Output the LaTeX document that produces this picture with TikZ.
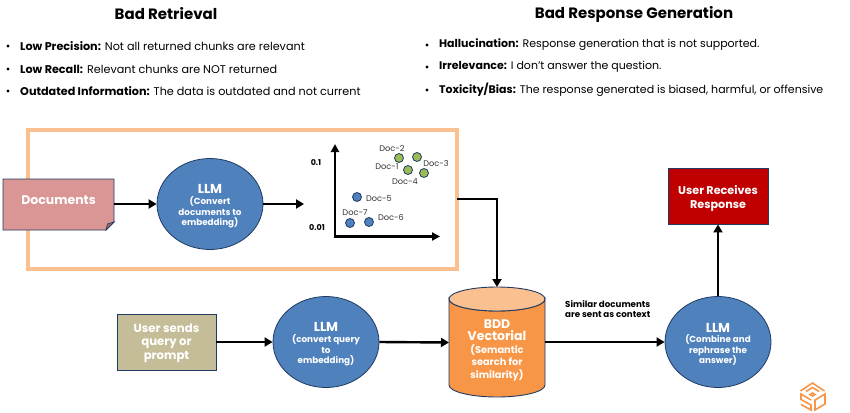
\documentclass[tikz,border=0pt]{standalone}
\usepackage{fontspec}
\setmainfont{Poppins}
\usetikzlibrary{arrows.meta,shapes.geometric}
\definecolor{edgeblue}{HTML}{1F3B63}
\definecolor{llmblue}{HTML}{4F81BD}
\definecolor{framepeach}{HTML}{FAC090}
\definecolor{docred}{HTML}{D99694}
\definecolor{dbor}{HTML}{F79646}
\definecolor{khaki}{HTML}{C4BD97}
\definecolor{dred}{HTML}{C00000}
\definecolor{dotgreen}{HTML}{9BBB59}
\tikzset{
  x=1pt,y=-1pt,
  llm/.style={ellipse,draw=edgeblue,line width=0.8pt,fill=llmblue,minimum width=106pt,minimum height=91pt,inner sep=0pt,text=white,align=center,font=\fontsize{8.8}{10.6}\selectfont\bfseries},
  boxw/.style={draw=edgeblue,line width=0.9pt,text=white,align=center,inner sep=0pt,font=\fontsize{10}{13.5}\selectfont\bfseries},
  flow/.style={draw=black,line width=2.4pt,-{Triangle[length=8pt,width=9pt]}},
  dotg/.style={circle,draw=edgeblue,line width=0.8pt,fill=dotgreen,minimum size=9pt,inner sep=0pt},
  dotb/.style={circle,draw=edgeblue,line width=0.8pt,fill=llmblue,minimum size=9pt,inner sep=0pt},
  doclab/.style={font=\fontsize{8.2}{9}\selectfont,text=black!80,inner sep=0pt},
  axlab/.style={font=\fontsize{8}{9}\selectfont\bfseries,inner sep=0pt},
  head/.style={font=\fontsize{15}{17}\selectfont\bfseries,inner sep=0pt},
  bul/.style={font=\fontsize{11.2}{13}\selectfont,anchor=west,inner sep=0pt},
  bur/.style={font=\fontsize{11}{13}\selectfont,anchor=west,inner sep=0pt},
}
\begin{document}
\begin{tikzpicture}
\useasboundingbox (0,0) rectangle (850,412);
\fill[white] (0,0) rectangle (850,412);
% headings and lists
\node[head] (h1) at (166,14) {Bad Retrieval};
\node[head] (h2) at (634,14) {Bad Response Generation};
\foreach \n/\yy/\t/\r in {a/46/Low Precision:/Not all returned chunks are relevant,b/69/Low Recall:/Relevant chunks are NOT returned,c/91/Outdated Information:/The data is outdated and not current}{
  \fill (8,\yy) circle (1.6);
  \node[bul] (l\n) at (20,\yy) {\textbf{\t} \r};
}
\foreach \n/\yy/\t/\r in {a/45/Hallucination:/Response generation that is not supported.,b/67/Irrelevance:/I don't answer the question.,c/90/Toxicity\slash Bias:/The response generated is biased\char44{} harmful\char44{} or offensive}{
  \fill (427,\yy) circle (1.6);
  \node[bur] (r\n) at (439,\yy) {\textbf{\t} \r};
}
% frame
\node[draw=framepeach,line width=4pt,minimum width=429pt,minimum height=139pt,inner sep=0pt] (frame) at (242.5,199.5) {};
% documents
\fill[docred,draw=edgeblue,line width=0.9pt] (3,179) -- (114,179) -- (114,222) -- (106,230) -- (3,230) -- cycle;
\fill[docred!70!black,draw=edgeblue,line width=0.7pt] (114,222) -- (107.5,224) -- (106,230) -- cycle;
\node[boxw,minimum width=111pt,minimum height=51pt,draw=none,font=\fontsize{12.5}{14}\selectfont\bfseries] (docs) at (58.5,200.5) {Documents};
\coordinate (docsout) at (114,204);
% llm nodes
\node[llm] (llm1) at (210,204) {\rule{0pt}{14pt}{\fontsize{13}{13}\selectfont LLM}\\(Convert\\documents to\\embedding)};
\node[llm] (llm2) at (326,342) {\rule{0pt}{14pt}{\fontsize{13}{13}\selectfont LLM}\\(convert query\\to\\embedding)};
\node[llm] (llm3) at (718,342) {\rule{0pt}{14pt}{\fontsize{13}{13}\selectfont LLM}\\(Combine and\\rephrase the\\answer)};
% plot
\coordinate (orig) at (335,236.5);
\coordinate (ytop) at (335,144);
\coordinate (xend) at (440,236.5);
\draw[line width=2.4pt,-{Triangle[length=8pt,width=8pt]}] (orig) -- (ytop);
\draw[line width=2.4pt,-{Triangle[length=8pt,width=8pt]}] ([xshift=-1.2pt]orig) -- (xend);
\coordinate (plotin) at (304,204);
\node[axlab] (y1) at (316,163) {0.1};
\node[axlab] (y2) at (317,228) {0.01};
\node[dotg] (d2) at (399,158) {};
\node[dotg] (d3) at (417,157) {};
\node[dotg] (d1) at (408,170) {};
\node[dotg] (d4) at (424,173) {};
\node[dotb] (d5) at (357,197) {};
\node[dotb] (d7) at (350,223) {};
\node[dotb] (d6) at (369,222) {};
\node[doclab] (t2) at (392,149) {Doc-2};
\node[doclab] (t3) at (436,164) {Doc-3};
\node[doclab] (t1) at (387,167) {Doc-1};
\node[doclab] (t4) at (405,182) {Doc-4};
\node[doclab] (t5) at (379,199) {Doc-5};
\node[doclab] (t7) at (355,213) {Doc-7};
\node[doclab] (t6) at (391,218) {Doc-6};
% cylinder
\fill[dbor,draw=edgeblue,line width=0.9pt] (449,299) -- (449,385) arc[start angle=180,end angle=360,x radius=48,y radius=-12] -- (545,299) arc[start angle=0,end angle=-180,x radius=48,y radius=-12] -- cycle;
\fill[framepeach,draw=edgeblue,line width=0.9pt] (497,299) ellipse[x radius=48,y radius=12];
\node[text=white,align=center,inner sep=0pt,font=\fontsize{9.8}{12.5}\selectfont\bfseries] (bdd) at (497,350) {{\fontsize{12.5}{15}\selectfont BDD}\\{\fontsize{12.5}{15}\selectfont Vectorial}\\(Semantic\\search for\\similarity)};
\coordinate (bddtop) at (497,287);
\coordinate (bddL) at (449,342.5);
\coordinate (bddR) at (545,342);
% boxes
\node[boxw,fill=dred,minimum width=100pt,minimum height=56pt,font=\fontsize{11.2}{14}\selectfont\bfseries] (resp) at (718,196) {\rule{0pt}{13pt}User Receives\\Response};
\node[boxw,fill=khaki,minimum width=99pt,minimum height=56pt,font=\fontsize{11.7}{13.5}\selectfont\bfseries] (user) at (166.5,342) {\rule{0pt}{11pt}User sends\\query or\\prompt};
\node[font=\fontsize{8.7}{10.5}\selectfont\bfseries,align=left,inner sep=0pt,anchor=west] (ctx) at (565,309) {Similar documents\\are sent as context};
% connectors
\draw[flow] (docsout) -- (llm1.west);
\draw[flow] (llm1.east) -- (plotin);
\coordinate (fr) at (457,199);
\coordinate (elb) at (497,199);
\draw[flow] (fr) -- (elb) -- (bddtop);
\draw[flow] (user.east) -- (llm2.west);
\draw[flow] (llm2.east) -- (bddL);
\draw[flow] (bddR) -- (llm3.west);
\draw[flow] (llm3.north) -- (resp.south);
% logo
\begin{scope}[draw=dbor,line width=1.6pt,line join=miter,fill=none]
\draw (800.5,391) -- (812.5,383) -- (824.5,391);
\draw (806,391.5) -- (812.5,387.5) -- (819,391.5);
\draw (810,394.5) -- (812.5,393) -- (815,394.5) -- (812.5,396) -- cycle;
\draw (811,400) -- (801,394) -- (801,399.5) -- (811,405) -- (811,410) -- (801,404.5);
\draw (815,400) -- (825,394) -- (825,404) -- (815,410) -- cycle;
\end{scope}
\end{tikzpicture}
\end{document}
